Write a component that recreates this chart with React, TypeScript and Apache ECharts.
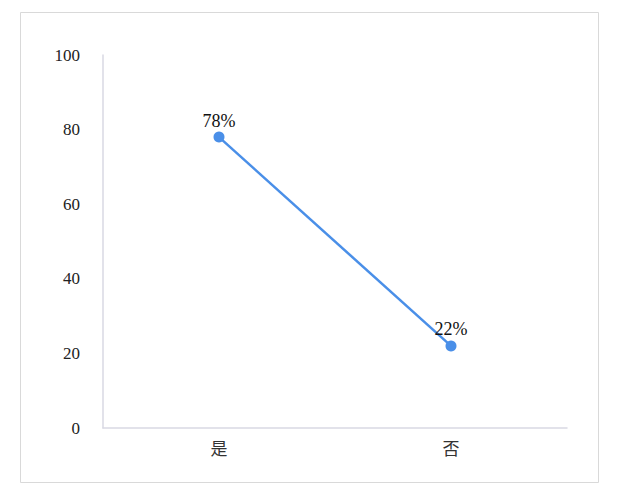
import React, { useEffect, useRef } from "react";
import * as echarts from "echarts";

const categories = ["是", "否"];
const values = [78, 22];
const yTicks = { min: 0, max: 100, interval: 20 };

const SERIF = "'Liberation Serif', 'Times New Roman', 'DejaVu Serif', serif";

export default function App() {
  const ref = useRef<HTMLDivElement>(null);

  useEffect(() => {
    if (!ref.current) return;
    const chart = echarts.init(ref.current, null, { renderer: "svg" });
    chart.setOption({
      animation: false,
      backgroundColor: "#ffffff",
      graphic: [
        {
          type: "rect",
          shape: { x: 20.5, y: 12.5, width: 578, height: 470 },
          style: { fill: "none", stroke: "#d9d9d9", lineWidth: 1 },
          silent: true,
        },
      ],
      grid: { left: 103, right: 52, top: 55, bottom: 66 },
      xAxis: {
        type: "category",
        data: categories,
        boundaryGap: true,
        axisLine: { lineStyle: { color: "#d9d9e3", width: 1.5 } },
        axisTick: { show: false },
        axisLabel: {
          color: "#333333",
          fontSize: 17,
          fontFamily: "'Noto Sans CJK SC', sans-serif",
          margin: 11,
        },
      },
      yAxis: {
        type: "value",
        min: yTicks.min,
        max: yTicks.max,
        interval: yTicks.interval,
        axisLine: { show: true, lineStyle: { color: "#d9d9e3", width: 1.5 } },
        axisTick: { show: false },
        splitLine: { show: false },
        axisLabel: {
          color: "#222222",
          fontSize: 17,
          fontFamily: SERIF,
          margin: 23,
        },
      },
      series: [
        {
          type: "line",
          data: values,
          symbol: "circle",
          symbolSize: 11,
          lineStyle: { color: "#4a8fe8", width: 2.5 },
          itemStyle: { color: "#4a8fe8" },
          label: {
            show: true,
            position: "top",
            distance: 2,
            formatter: "{c}%",
            color: "#111111",
            fontSize: 18,
            fontFamily: SERIF,
          },
        },
      ],
    });
    return () => chart.dispose();
  }, []);

  return (
    <div
      ref={ref}
      style={{ position: "fixed", left: 0, top: 0, width: 619, height: 494 }}
    />
  );
}
